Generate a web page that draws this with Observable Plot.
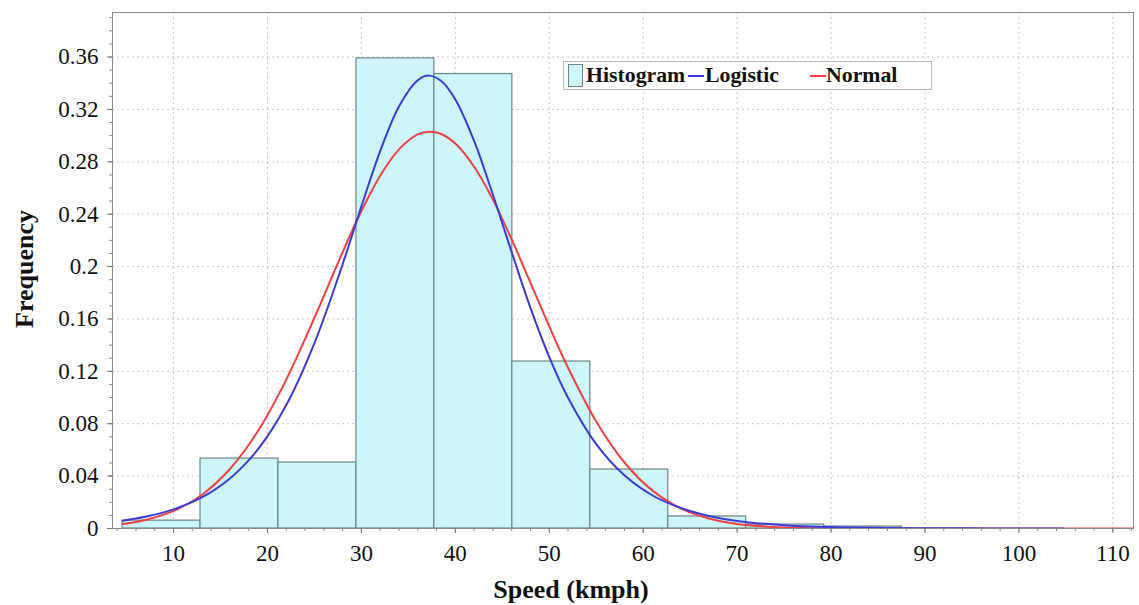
<!DOCTYPE html>
<html>
<head>
<meta charset="utf-8">
<script src="https://cdn.jsdelivr.net/npm/d3@7"></script>
<script src="https://cdn.jsdelivr.net/npm/@observablehq/plot@0.6"></script>
<style>
  html, body { margin: 0; padding: 0; background: #fff; }
  #wrap { position: relative; width: 1139px; height: 605px; overflow: hidden; font-family: "Liberation Serif", "DejaVu Serif", serif; }
  .ttl { position: absolute; font-weight: bold; font-size: 26px; line-height: 26px; color: #111; white-space: nowrap; }
  #ylab { left: 25px; top: 269px; transform: translate(-50%, -50%) rotate(-90deg); }
  #xlab { left: 571px; top: 590px; transform: translate(-50%, -50%); }
  #legend { position: absolute; left: 563px; top: 61px; width: 367px; height: 27px; border: 1px solid #bbb; background: #fff;
            font-weight: bold; font-size: 21.8px; color: #111; }
  #legend span { position: absolute; top: 1px; line-height: 25px; }
  .sw { position: absolute; top: 2px; left: 4px; width: 13px; height: 21px; background: #cdf6fa; border: 1px solid #6f8585; }
  .ln { position: absolute; top: 13px; width: 16px; height: 2px; }
</style>
</head>
<body>
<div id="wrap">
  <div id="chart"></div>
  <div class="ttl" id="ylab">Frequency</div>
  <div class="ttl" id="xlab">Speed (kmph)</div>
  <div id="legend">
    <div class="sw"></div><span style="left:22px">Histogram</span>
    <div class="ln" style="left:124px;background:#3b3bd8"></div><span style="left:141px">Logistic</span>
    <div class="ln" style="left:246px;background:#f04040"></div><span style="left:262px">Normal</span>
  </div>
</div>
<script>
// Histogram bins (speed, kmph) and relative frequencies
const binEdges = [4.57, 12.87, 21.17, 29.47, 37.77, 46.07, 54.37, 62.67, 70.97, 79.27, 87.57];
const binFreq  = [0.006, 0.0534, 0.0504, 0.359, 0.347, 0.1275, 0.045, 0.0092, 0.003, 0.0015];

// Logistic fitted curve
const logisticX = [4.6, 7, 10, 13, 16, 19, 22, 25, 28, 30, 32, 34, 36, 37.2, 38.5, 40, 42, 44, 46, 48, 50, 52, 55, 58, 61, 64, 67, 70, 75, 80, 85, 90, 95, 100, 104.7];
const logisticY = [0.0060, 0.0089, 0.0146, 0.0237, 0.0382, 0.0606, 0.0943, 0.1416, 0.2018, 0.2460, 0.2882, 0.3223, 0.3423, 0.3458, 0.3417, 0.3276, 0.2959, 0.2548, 0.2110, 0.1684, 0.1309, 0.0998, 0.0644, 0.0406, 0.0252, 0.0157, 0.0096, 0.0058, 0.0025, 0.0011, 0.0005, 0.0002, 0.0001, 0.00004, 0.00002];

// Normal fitted curve
const normalX = [4.6, 7, 10, 13, 16, 19, 22, 25, 28, 30, 32, 34, 36, 37.3, 38.5, 40, 42, 44, 46, 48, 50, 52, 55, 58, 61, 64, 67, 70, 75, 80, 85, 90, 100, 112.2];
const normalY = [0.0035, 0.0065, 0.0134, 0.0256, 0.0454, 0.0746, 0.1137, 0.1609, 0.2110, 0.2424, 0.2694, 0.2895, 0.3009, 0.3030, 0.3012, 0.2939, 0.2762, 0.2511, 0.2207, 0.1876, 0.1543, 0.1227, 0.0817, 0.0504, 0.0289, 0.0153, 0.0076, 0.0035, 0.0008, 0.00015, 0.00002, 0, 0, 0];

// Tick labels
const xTicks = [10, 20, 30, 40, 50, 60, 70, 80, 90, 100, 110];
const yTicks = [0, 0.04, 0.08, 0.12, 0.16, 0.2, 0.24, 0.28, 0.32, 0.36];

const bins = binFreq.map((f, i) => ({x1: binEdges[i], x2: binEdges[i + 1], y: f}));
const logistic = logisticX.map((x, i) => ({x, y: logisticY[i]}));
const normal = normalX.map((x, i) => ({x, y: normalY[i]}));
const xMinor = d3.range(4, 113, 2);
const yMinor = d3.range(0, 0.395, 0.01);
const fmt = d => String(+d.toFixed(2));
const none = () => "";

const chart = Plot.plot({
  width: 1139,
  height: 605,
  marginLeft: 112,
  marginTop: 12,
  marginRight: 6,
  marginBottom: 77,
  style: {fontFamily: "Liberation Serif, DejaVu Serif, serif", fontSize: "23px", color: "#111", background: "#fff"},
  x: {domain: [3.5, 112.2]},
  y: {domain: [0, 0.394]},
  marks: [
    Plot.gridY(yTicks, {stroke: "#c8c8c8", strokeOpacity: 1, strokeDasharray: "2,3"}),
    Plot.gridX(xTicks, {stroke: "#c8c8c8", strokeOpacity: 1, strokeDasharray: "2,3"}),
    Plot.rectY(bins, {x1: "x1", x2: "x2", y: "y", fill: "#cdf6fa", stroke: "#6f8585", strokeWidth: 1.2}),
    Plot.line(normal, {x: "x", y: "y", stroke: "#f04040", strokeWidth: 2, curve: "catmull-rom", clip: true}),
    Plot.line(logistic, {x: "x", y: "y", stroke: "#3b3bd8", strokeWidth: 2, curve: "catmull-rom", clip: true}),
    Plot.frame({stroke: "#8a8a8a"}),
    Plot.axisY(yMinor, {tickSize: 3, tickFormat: none, stroke: "#8a8a8a", label: null}),
    Plot.axisY(yTicks, {tickSize: 5, tickPadding: 9, tickFormat: fmt, stroke: "#777", label: null, fontSize: 23}),
    Plot.axisX(xMinor, {tickSize: 3, tickFormat: none, stroke: "#8a8a8a", label: null}),
    Plot.axisX(xTicks, {tickSize: 5, tickPadding: 11, stroke: "#777", label: null, fontSize: 23})
  ]
});
document.getElementById("chart").appendChild(chart);
</script>
</body>
</html>
